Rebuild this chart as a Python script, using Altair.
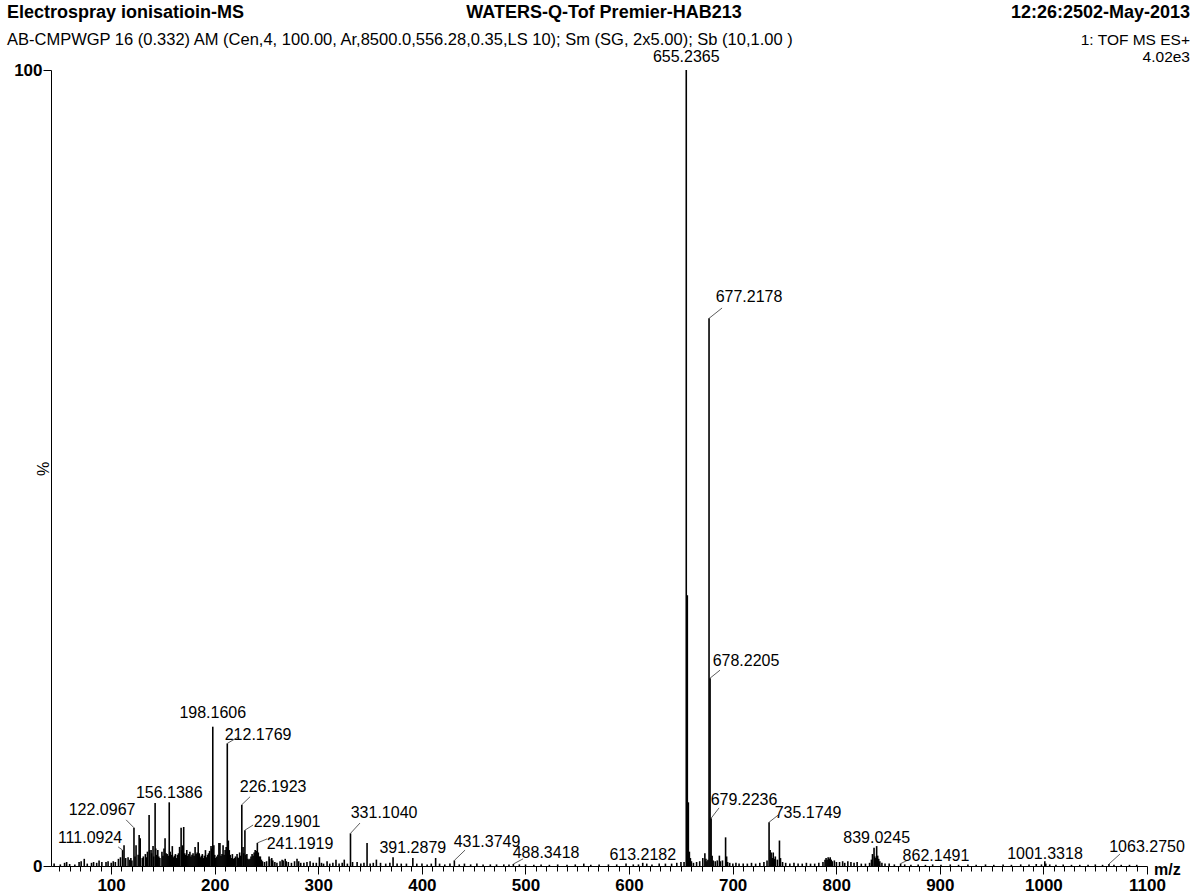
import altair as alt
import pandas as pd

FONT = "Liberation Sans"

# Unlabelled centroid peaks: m/z and relative intensity (%)
peak_mz = [
    45.0, 51.0, 55.1, 57.1, 60.0, 65.0, 69.1, 71.1, 74.1, 77.0, 81.1, 83.1, 86.1, 88.4, 91.1, 95.1,
    97.1, 100.1, 102.1, 104.1, 107.1, 109.1, 112.5, 114.1, 116.4, 118.1, 119.1, 120.1, 123.1, 124.1,
    126.1, 127.1, 128.1, 130.1, 131.1, 133.1, 134.1, 135.1, 136.7, 137.1, 138.6, 139.1, 140.5, 141.1,
    142.5, 143.1, 144.1, 145.1, 146.1, 147.1, 149.1, 150.1, 151.1, 152.1, 153.1, 154.1, 155.1, 157.1,
    158.1, 159.1, 160.1, 161.1, 162.1, 163.1, 164.1, 165.1, 166.1, 167.6, 168.1, 169.1, 170.1, 171.1,
    172.1, 173.1, 174.1, 175.1, 176.1, 177.1, 178.1, 179.1, 180.1, 181.1, 182.1, 183.1, 184.1, 185.1,
    186.1, 187.1, 188.1, 189.1, 190.1, 191.1, 192.1, 193.1, 194.1, 195.1, 196.5, 197.1, 199.2, 200.1,
    201.1, 202.1, 203.1, 204.1, 205.1, 206.1, 207.1, 208.1, 209.1, 210.1, 211.1, 213.2, 214.1, 215.1,
    216.1, 217.1, 218.1, 219.1, 220.1, 221.6, 222.1, 223.1, 224.1, 225.1, 227.4, 228.1, 230.1, 231.1,
    232.1, 233.1, 234.1, 235.1, 236.1, 237.1, 238.1, 239.1, 240.1, 242.1, 243.1, 244.1, 245.1, 246.1,
    248.1, 250.1, 252.5, 253.1, 255.1, 256.1, 258.1, 260.1, 263.1, 265.1, 266.1, 268.1, 269.1, 271.1,
    274.1, 277.1, 279.5, 281.1, 283.1, 286.1, 289.1, 292.1, 295.1, 298.1, 301.1, 303.1, 305.1, 308.5,
    311.1, 314.1, 317.1, 320.1, 323.1, 325.1, 328.1, 333.1, 337.5, 341.1, 344.1, 347.1, 350.1, 353.1,
    356.1, 360.1, 365.1, 369.1, 372.2, 376.1, 380.1, 385.1, 395.1, 400.1, 405.1, 409.1, 413.3, 417.1,
    422.1, 427.1, 436.1, 441.1, 447.1, 453.1, 459.1, 466.1, 472.1, 479.1, 484.1, 494.1, 500.1, 508.1,
    515.1, 523.1, 531.1, 540.1, 548.1, 556.3, 563.1, 571.1, 580.1, 588.1, 597.1, 604.1, 609.1, 617.1,
    622.1, 629.1, 635.1, 641.1, 646.1, 650.1, 653.1, 656.24, 657.24, 658.24, 659.2, 660.2, 662.2, 665.2,
    668.2, 671.2, 673.2, 674.2, 675.2, 676.2, 680.2, 681.2, 683.2, 685.2, 687.2, 688.2, 690.2, 693.2,
    694.2, 695.2, 697.2, 700.2, 703.2, 706.2, 710.2, 714.2, 718.2, 722.2, 726.2, 730.2, 733.2, 736.2,
    737.2, 738.2, 739.2, 740.2, 741.2, 743.2, 745.2, 746.2, 748.2, 751.2, 755.2, 759.2, 763.2, 767.2,
    771.2, 775.2, 779.2, 783.2, 787.2, 789.2, 790.2, 791.2, 792.2, 793.2, 794.2, 795.2, 796.2, 798.2,
    800.2, 803.2, 806.2, 808.2, 811.2, 814.2, 817.2, 820.2, 824.2, 828.2, 832.2, 834.0, 835.0, 836.5,
    837.2, 838.2, 840.0, 841.0, 842.1, 844.1, 847.1, 851.1, 856.1, 866.1, 872.1, 879.1, 886.1, 893.1,
    901.1, 910.1, 918.1, 927.1, 935.1, 944.1, 952.1, 961.1, 969.1, 978.1, 986.1, 993.1, 998.1, 1002.3,
    1006.1, 1012.1, 1019.1, 1027.1, 1035.1, 1043.1, 1050.1, 1057.1, 1068.1, 1075.1, 1083.1, 1090.1,
]
peak_pct = [
    0.3, 0.2, 0.4, 0.5, 0.25, 0.2, 0.5, 0.6, 0.9, 0.3, 0.4, 0.5, 0.4, 0.7, 0.5, 0.5,
    0.6, 0.4, 0.6, 0.5, 0.9, 1.1, 2.6, 1.0, 1.1, 0.8, 1.0, 0.7, 1.2, 2.6,
    1.4, 3.9, 3.5, 1.0, 1.2, 1.5, 1.1, 1.8, 6.4, 2.0, 2.0, 1.6, 2.5, 1.2,
    7.9, 2.2, 1.4, 2.0, 1.2, 1.0, 1.8, 1.3, 2.2, 3.5, 1.6, 1.5, 1.3, 1.8,
    1.4, 2.5, 1.1, 1.3, 1.5, 1.0, 1.4, 1.6, 2.4, 4.8, 2.0, 2.6, 4.9, 1.6,
    1.4, 2.0, 1.3, 1.5, 1.8, 1.2, 1.4, 1.6, 1.3, 2.4, 1.5, 1.7, 3.0, 1.6,
    1.1, 1.3, 1.5, 1.0, 1.3, 2.0, 1.1, 1.4, 1.6, 1.9, 2.5, 2.2, 2.6, 1.4,
    1.0, 1.2, 1.4, 2.9, 2.9, 1.3, 1.5, 2.6, 1.4, 2.0, 2.4, 3.2, 2.0, 1.4,
    1.0, 1.5, 0.9, 1.0, 1.2, 1.5, 1.1, 1.0, 1.7, 1.3, 2.4, 1.6, 1.4, 1.5,
    0.9, 0.8, 0.9, 1.2, 1.5, 1.3, 1.7, 2.0, 1.9, 1.7, 1.2, 1.2, 0.8, 0.6,
    0.5, 0.6, 1.2, 0.9, 1.0, 0.7, 0.5, 0.4, 0.6, 0.8, 0.7, 0.9, 0.6, 0.5,
    0.4, 0.6, 0.9, 0.6, 0.4, 0.4, 0.5, 0.6, 0.4, 0.4, 1.1, 0.4, 0.3, 0.6,
    0.3, 0.4, 0.8, 0.3, 0.4, 0.8, 0.3, 0.5, 0.5, 0.3, 0.4, 2.9, 0.3, 0.4,
    0.8, 0.4, 0.3, 0.4, 1.1, 0.3, 0.3, 0.3, 0.3, 0.3, 0.2, 0.3, 1.0, 0.3,
    0.2, 0.3, 0.2, 0.3, 0.2, 0.3, 0.2, 0.2, 0.2, 0.2, 0.2, 0.2, 0.2, 0.15,
    0.2, 0.15, 0.2, 0.15, 0.2, 0.3, 0.15, 0.2, 0.2, 0.2, 0.3, 0.2, 0.2, 0.3,
    0.2, 0.3, 0.3, 0.3, 0.4, 0.5, 0.5, 34.0, 8.0, 1.8, 1.0, 0.6, 0.4, 0.5,
    0.6, 1.0, 1.6, 0.9, 0.6, 0.8, 1.3, 0.7, 0.6, 0.7, 1.3, 0.6, 0.7, 3.6,
    1.2, 0.5, 0.4, 0.3, 0.4, 0.3, 0.3, 0.3, 0.4, 0.3, 0.4, 0.5, 0.7, 2.0,
    1.7, 1.0, 1.7, 0.9, 1.2, 0.8, 3.2, 1.0, 0.5, 0.4, 0.3, 0.4, 0.3, 0.3,
    0.4, 0.3, 0.3, 0.4, 0.5, 0.8, 1.0, 0.8, 1.1, 0.9, 1.1, 0.8, 0.6, 0.7,
    0.5, 0.5, 0.6, 0.4, 0.6, 0.5, 0.4, 0.5, 0.3, 0.3, 0.4, 0.8, 1.5, 2.3,
    1.2, 1.0, 1.3, 0.9, 0.6, 0.4, 0.3, 0.3, 0.2, 0.2, 0.15, 0.2, 0.15, 0.2,
    0.15, 0.2, 0.15, 0.2, 0.15, 0.2, 0.15, 0.2, 0.15, 0.2, 0.2, 0.25, 0.2, 0.3,
    0.2, 0.15, 0.2, 0.15, 0.15, 0.15, 0.2, 0.15, 0.15, 0.15, 0.15, 0.15,
]

# Annotated peaks: label text is the centroid m/z
label_text = [
    "111.0924", "122.0967", "156.1386", "198.1606", "212.1769", "226.1923", "229.1901",
    "241.1919", "331.1040", "391.2879", "431.3749", "488.3418", "613.2182", "655.2365",
    "677.2178", "678.2205", "679.2236", "735.1749", "839.0245", "862.1491", "1001.3318",
    "1063.2750",
]
label_pct = [
    2.0, 4.8, 8.0, 17.5, 15.4, 7.7, 4.5, 2.9, 4.1, 1.0, 0.7, 0.25, 0.4, 100.0,
    68.8, 23.6, 6.0, 5.5, 2.5, 0.3, 0.6, 0.25,
]
# where each annotation text sits (m/z, %)
text_mz = [
    79.7, 91.3, 156.1386, 198.1606, 241.9, 256.4, 269.9, 282.4, 363.5, 391.2879, 462.9,
    519.9, 613.2182, 655.2365, 715.8, 712.9, 711.0, 772.8, 839.0245, 896.3, 1001.5, 1100.0,
]
text_pct = [
    3.5, 7.0, 9.2, 19.2, 16.5, 9.9, 5.5, 2.8, 6.7, 2.3, 3.0, 1.6, 1.4, 101.6,
    71.5, 25.8, 8.3, 6.7, 3.5, 1.3, 1.5, 2.4,
]
# end of the leader line from the peak towards its text (None: text sits on the peak)
lead_mz = [
    106.8, 114.5, None, None, 222.6, 234.2, 237.1, 250.6, 340.3, None, 441.7,
    497.7, None, None, 689.8, 687.8, 686.9, 744.0, None, 869.3, None, 1073.9,
]
lead_pct = [
    2.4, 5.8, None, None, 16.2, 8.7, 5.15, 3.4, 5.4, None, 2.0,
    0.9, None, None, 70.1, 24.6, 7.3, 6.4, None, 0.75, None, 1.5,
]

peaks = pd.DataFrame({
    "mz": peak_mz + [float(t) for t in label_text],
    "pct": peak_pct + label_pct,
})
labels = pd.DataFrame({
    "text": label_text, "mz": [float(t) for t in label_text], "pct": label_pct,
    "tmz": text_mz, "tpct": text_pct, "lmz": lead_mz, "lpct": lead_pct,
})
leaders = labels.dropna(subset=["lmz"])

xscale = alt.Scale(domain=[42, 1100], nice=False, zero=False)
yscale = alt.Scale(domain=[0, 100], nice=False)

minor_axis = alt.Axis(
    orient="bottom", values=list(range(50, 1100, 10)), labels=False, tickSize=5,
    tickColor="black", domainColor="black", domainWidth=1, tickWidth=1, grid=False, title=None,
)
major_axis = alt.Axis(
    orient="bottom", values=list(range(100, 1101, 100)), tickSize=8, tickColor="black",
    domain=False, grid=False, title=None, format="d", labelFont=FONT, labelFontSize=17,
    labelFontWeight="bold", labelColor="black", labelPadding=3, labelFlush=False,
)
y_axis = alt.Axis(
    values=[0, 100], tickSize=8, tickColor="black", domainColor="black", grid=False,
    title=None, format="d", labelFont=FONT, labelFontSize=17, labelFontWeight="bold",
    labelColor="black", labelPadding=1, labelBaseline="middle",
)

sticks = alt.Chart(peaks).mark_rule(color="black", strokeWidth=1.6).encode(
    x=alt.X("mz:Q", scale=xscale, axis=minor_axis),
    y=alt.Y("pct:Q", scale=yscale, axis=y_axis),
    y2=alt.datum(0),
)

lead_lines = alt.Chart(leaders).mark_rule(color="#333333", strokeWidth=0.8).encode(
    x=alt.X("mz:Q", scale=xscale, axis=major_axis),
    y=alt.Y("pct:Q", scale=yscale, axis=y_axis),
    x2="lmz:Q", y2="lpct:Q",
)

peak_text = alt.Chart(labels).mark_text(
    font=FONT, fontSize=16, color="black", align="center", baseline="middle"
).encode(
    x=alt.X("tmz:Q", scale=xscale, axis=None),
    y=alt.Y("tpct:Q", scale=yscale, axis=y_axis),
    text="text:N",
)


def note(txt, x, y, align="left", weight="normal", size=15, angle=0):
    return alt.Chart(pd.DataFrame({"t": [txt]})).mark_text(
        font=FONT, fontSize=size, fontWeight=weight, align=align,
        baseline="alphabetic", color="black", angle=angle,
    ).encode(x=alt.value(x), y=alt.value(y), text="t:N")


header = [
    note("Electrospray ionisatioin-MS", -44, -52, "left", "bold", 18),
    note("WATERS-Q-Tof Premier-HAB213", 553, -52, "center", "bold", 18),
    note("12:26:2502-May-2013", 1139, -52, "right", "bold", 18),
    note("AB-CMPWGP 16 (0.332) AM (Cen,4, 100.00, Ar,8500.0,556.28,0.35,LS 10); "
         "Sm (SG, 2x5.00); Sb (10,1.00 )", -44, -25, "left", "normal", 16.5),
    note("1: TOF MS ES+", 1139, -25, "right", "normal", 15.5),
    note("4.02e3", 1139, -8, "right", "normal", 15.5),
    note("m/z", 1103, 805, "left", "bold", 16),
    note("%", -2, 399, "center", "normal", 16, 270),
]

chart = alt.layer(sticks, lead_lines, peak_text, *header).resolve_axis(
    x="independent"
).properties(
    width=1096, height=796,
    padding={"left": 51, "top": 70, "right": 48, "bottom": 28},
    autosize=alt.AutoSizeParams(type="none"),
    background="white",
).configure_view(stroke=None)

chart.save("out.html", embed_options={"renderer": "svg", "actions": False})
